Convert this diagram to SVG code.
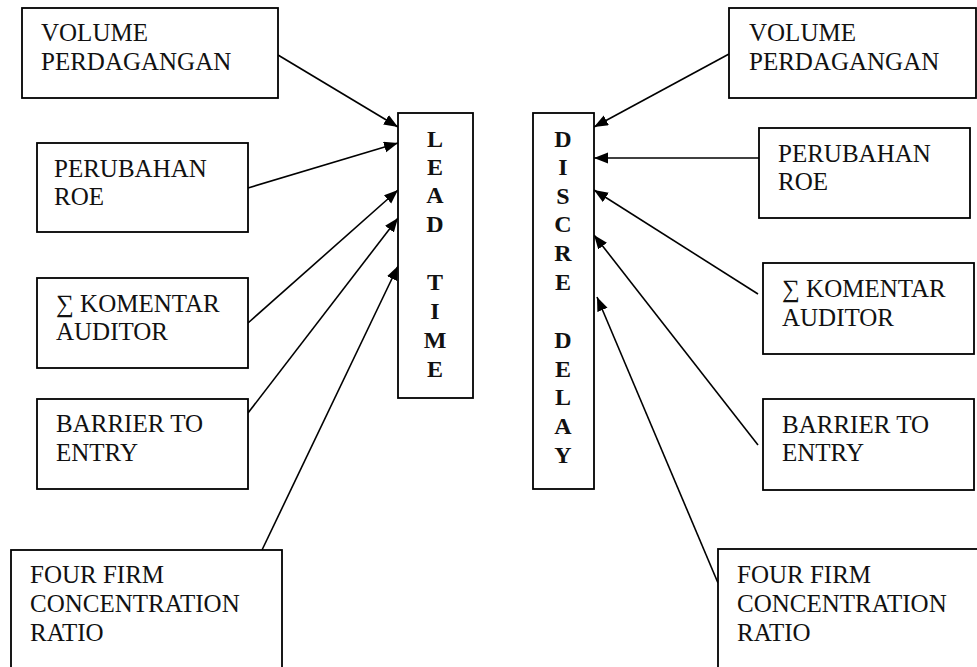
<svg xmlns="http://www.w3.org/2000/svg" width="977" height="667" viewBox="0 0 977 667">
<style>
.box{fill:#fff;stroke:#000;stroke-width:1.8}
.t{font-family:'Liberation Serif','Times New Roman',serif;font-size:25px;fill:#111}
.v{font-family:'Liberation Serif','Times New Roman',serif;font-size:24px;font-weight:bold;fill:#111;text-anchor:middle}
.c{stroke:#000;stroke-width:1.6;fill:none;marker-end:url(#ah)}
</style>
<defs>
<marker id="ah" markerUnits="userSpaceOnUse" markerWidth="14" markerHeight="12" refX="14" refY="5.5" orient="auto">
<path d="M0,0 L14,5.5 L0,11 z" fill="#000"/>
</marker>
</defs>
<rect width="977" height="667" fill="#fff"/>

<g id="connectors">
<line class="c" x1="278" y1="55" x2="398" y2="127"/>
<line class="c" x1="248" y1="188" x2="398" y2="143"/>
<line class="c" x1="248" y1="323" x2="398" y2="190"/>
<line class="c" x1="248" y1="413" x2="398" y2="218"/>
<line class="c" x1="262" y1="550" x2="398" y2="266"/>
<line class="c" x1="729" y1="54" x2="594" y2="127"/>
<line class="c" x1="759" y1="158" x2="594" y2="158"/>
<line class="c" x1="758" y1="294" x2="594" y2="190"/>
<line class="c" x1="758" y1="445" x2="594" y2="235"/>
<line class="c" x1="718" y1="583" x2="597" y2="297"/>
</g>

<g id="lead-time">
<rect class="box" x="398" y="113" width="75" height="285"/>
<text class="v" x="435" y="147">L</text>
<text class="v" x="435" y="175">E</text>
<text class="v" x="435" y="203">A</text>
<text class="v" x="435" y="232">D</text>
<text class="v" x="435" y="290">T</text>
<text class="v" x="435" y="319">I</text>
<text class="v" x="435" y="348">M</text>
<text class="v" x="435" y="377">E</text>
</g>

<g id="discre-delay">
<rect class="box" x="533" y="113" width="61" height="376"/>
<text class="v" x="563" y="147">D</text>
<text class="v" x="563" y="175">I</text>
<text class="v" x="563" y="204">S</text>
<text class="v" x="563" y="232">C</text>
<text class="v" x="563" y="261">R</text>
<text class="v" x="563" y="290">E</text>
<text class="v" x="563" y="348">D</text>
<text class="v" x="563" y="377">E</text>
<text class="v" x="563" y="405">L</text>
<text class="v" x="563" y="434">A</text>
<text class="v" x="563" y="463">Y</text>
</g>

<g id="l-volume">
<rect class="box" x="22" y="8" width="256" height="90"/>
<text class="t" x="41" y="41">VOLUME</text>
<text class="t" x="41" y="70">PERDAGANGAN</text>
</g>
<g id="l-roe">
<rect class="box" x="37" y="143" width="211" height="89"/>
<text class="t" x="54" y="177">PERUBAHAN</text>
<text class="t" x="54" y="205">ROE</text>
</g>
<g id="l-komentar">
<rect class="box" x="37" y="278" width="211" height="90"/>
<text class="t" x="56" y="312">∑ KOMENTAR</text>
<text class="t" x="56" y="340">AUDITOR</text>
</g>
<g id="l-barrier">
<rect class="box" x="37" y="399" width="211" height="90"/>
<text class="t" x="56" y="432">BARRIER TO</text>
<text class="t" x="56" y="461">ENTRY</text>
</g>
<g id="l-fourfirm">
<rect class="box" x="11" y="550" width="271" height="140"/>
<text class="t" x="30" y="583">FOUR FIRM</text>
<text class="t" x="30" y="612">CONCENTRATION</text>
<text class="t" x="30" y="641">RATIO</text>
</g>

<g id="r-volume">
<rect class="box" x="729" y="8" width="247" height="90"/>
<text class="t" x="749" y="41">VOLUME</text>
<text class="t" x="749" y="70">PERDAGANGAN</text>
</g>
<g id="r-roe">
<rect class="box" x="759" y="128" width="211" height="90"/>
<text class="t" x="778" y="162">PERUBAHAN</text>
<text class="t" x="778" y="190">ROE</text>
</g>
<g id="r-komentar">
<rect class="box" x="763" y="263" width="211" height="91"/>
<text class="t" x="782" y="297">∑ KOMENTAR</text>
<text class="t" x="782" y="326">AUDITOR</text>
</g>
<g id="r-barrier">
<rect class="box" x="763" y="399" width="211" height="91"/>
<text class="t" x="782" y="433">BARRIER TO</text>
<text class="t" x="782" y="461">ENTRY</text>
</g>
<g id="r-fourfirm">
<rect class="box" x="718" y="549" width="280" height="140"/>
<text class="t" x="737" y="583">FOUR FIRM</text>
<text class="t" x="737" y="612">CONCENTRATION</text>
<text class="t" x="737" y="641">RATIO</text>
</g>
</svg>
